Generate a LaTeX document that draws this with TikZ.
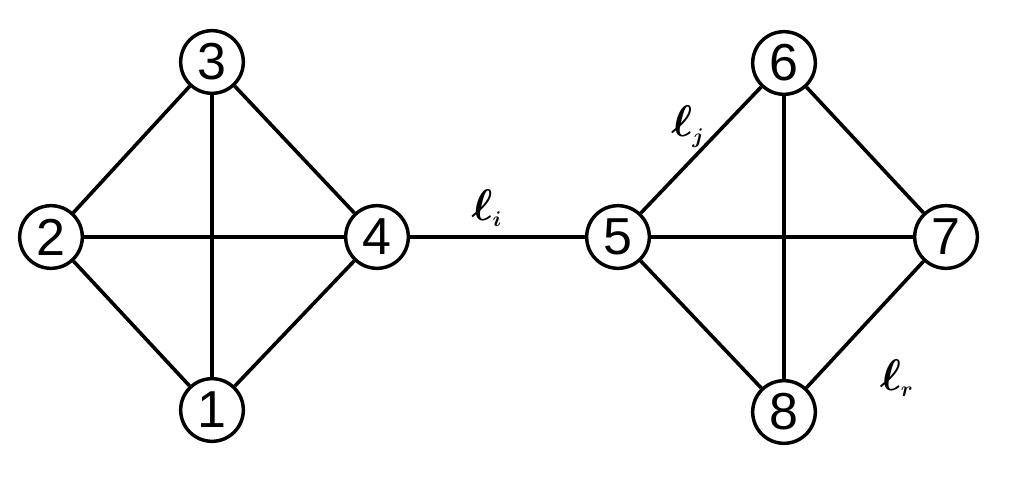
\documentclass[tikz,border=0pt]{standalone}
\usepackage{fontspec}
\usepackage{amsmath,bm}
\newfontfamily\nodefont{Liberation Sans}
\begin{document}
\begin{tikzpicture}[x=0.75pt,y=-0.75pt,
  vtx/.style={circle,draw,line width=2.6pt,minimum size=47pt,inner sep=0pt,fill=white,font=\nodefont\fontsize{39}{39}\selectfont},
  edge/.style={line width=2.7pt},
  lbl/.style={font=\fontsize{20}{20}\selectfont,scale=1.6}]
\useasboundingbox (0,0) rectangle (1010,478);
\node[vtx] (n3) at (212,62) {3};
\node[vtx] (n2) at (51,237) {2};
\node[vtx] (n4) at (377,237) {4};
\node[vtx] (n1) at (212,410) {1};
\node[vtx] (n5) at (618,237) {5};
\node[vtx] (n6) at (784,63) {6};
\node[vtx] (n7) at (946,237) {7};
\node[vtx] (n8) at (784,412) {8};
\draw[edge] (n3) -- (n2);
\draw[edge] (n3) -- (n4);
\draw[edge] (n3) -- (n1);
\draw[edge] (n2) -- (n4);
\draw[edge] (n2) -- (n1);
\draw[edge] (n4) -- (n1);
\draw[edge] (n4) -- (n5);
\draw[edge] (n5) -- (n6);
\draw[edge] (n5) -- (n7);
\draw[edge] (n5) -- (n8);
\draw[edge] (n6) -- (n7);
\draw[edge] (n6) -- (n8);
\draw[edge] (n7) -- (n8);
\node[lbl] (li) at (487,208) {$\boldsymbol{\ell}_{\scriptscriptstyle\boldsymbol{i}}$};
\node[lbl] (lj) at (688,127) {$\boldsymbol{\ell}_{\scriptscriptstyle\boldsymbol{j}}$};
\node[lbl] (lr) at (897,378) {$\boldsymbol{\ell}_{\scriptscriptstyle\boldsymbol{r}}$};
\end{tikzpicture}
\end{document}
